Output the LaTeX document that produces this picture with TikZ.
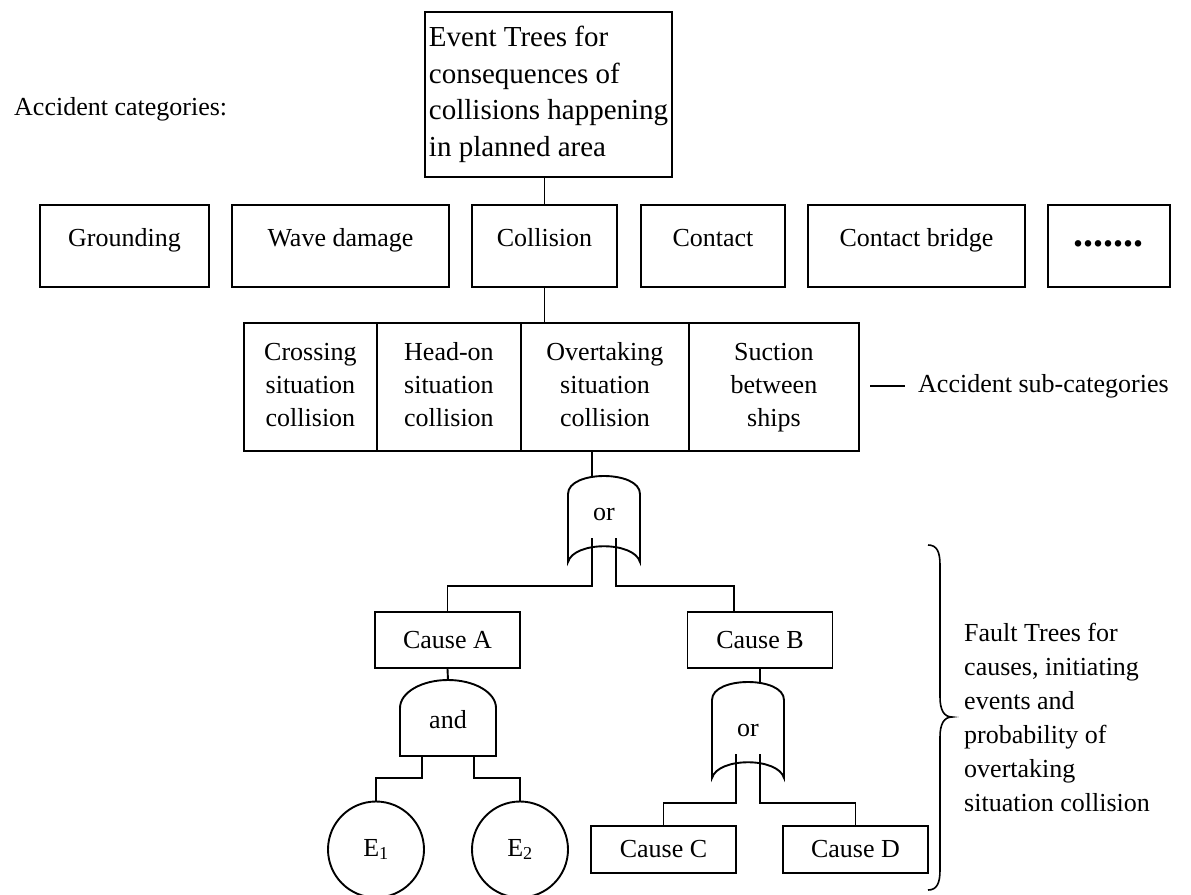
\documentclass[tikz,border=0pt]{standalone}
\usepackage{fontspec}
\setmainfont{Liberation Serif}
\begin{document}
\begin{tikzpicture}[x=1pt,y=-1pt,
  every node/.style={font=\fontsize{26}{34}\selectfont},
  line/.style={line width=1.9pt},
  box/.style={draw, line width=1.9pt, inner sep=0pt},
  catbox/.style={box, anchor=north west, text height=42pt, text depth=40pt},
  subbox/.style={box, anchor=north west, align=center, minimum height=128pt,
                 font=\fontsize{26}{33}\selectfont},
  causebox/.style={box, minimum width=145pt},
  plain/.style={inner sep=0pt},
  pics/orgate/.style={code={
    \draw[line] (-36,#1) -- (-36,18) .. controls (-36,-6) and (36,-6) .. (36,18)
      -- (36,#1) .. controls (30,{#1-21}) and (-30,{#1-21}) .. (-36,#1) -- cycle;
    \coordinate (-tl) at (-12,1);
    \coordinate (-tr) at (12,1);
    \coordinate (-a) at (-12,{#1-24});
    \coordinate (-b) at (12,{#1-24});
  }},
  pics/andgate/.style={code={
    \draw[line] (-48,#1) -- (-48,28) .. controls (-48,12.5) and (-26.5,0) .. (0,0)
      .. controls (26.5,0) and (48,12.5) .. (48,28) -- (48,#1) -- cycle;
    \coordinate (-top) at (0,0);
    \coordinate (-a) at (-26,#1);
    \coordinate (-b) at (26,#1);
  }}
]
\useasboundingbox (0,0) rectangle (1191,894);

% event tree box and heading
\node[box, anchor=north west, align=left, inner xsep=4pt, minimum height=165pt,
      font=\fontsize{29}{36.4}\selectfont]
  (top) at (424,11) {Event Trees for\\consequences of\\collisions happening\\in planned area};
\node[plain, anchor=west] (acclab) at (14,109) {Accident categories:};

% accident categories
\node[catbox, minimum width=169pt] (cat1) at (39,204) {Grounding};
\node[catbox, minimum width=217pt] (cat2) at (231,204) {Wave damage};
\node[catbox, minimum width=145pt] (cat3) at (471,204) {Collision};
\node[catbox, minimum width=144pt] (cat4) at (640,204) {Contact};
\node[catbox, minimum width=217pt] (cat5) at (807,204) {Contact bridge};
\node[catbox, minimum width=122pt, font=\fontsize{40}{40}\selectfont\bfseries]
  (cat6) at (1047,204) {.......};

% accident sub-categories (struts keep the three lines on common baselines)
\node[subbox, minimum width=133pt] (sub1) at (243,322) {\strut Crossing\\situation\\collision\strut};
\node[subbox, minimum width=144pt] (sub2) at (376,322) {\strut Head-on\\situation\\collision\strut};
\node[subbox, minimum width=168pt] (sub3) at (520,322) {\strut Overtaking\\situation\\collision\strut};
\node[subbox, minimum width=170pt] (sub4) at (688,322) {\strut Suction\\between\\ships\strut};
\coordinate (sl) at (870,386);
\node[plain, anchor=west] (sublab) at (918,386) {Accident sub-categories};

\draw[line] (cat3.north) -- (cat3.north |- top.south);
\draw[line] (cat3.south) -- (cat3.south |- sub3.north);
\draw[line] (sl) -- ([xshift=-13pt]sublab.west);

% fault tree
\pic (g1) at (604,476) {orgate=86};
\node (g1t) at (604,514) {or};
\node[causebox, minimum height=56pt] (cA) at (447.5,640) {Cause A};
\node[causebox, minimum height=56pt] (cB) at (760,640) {Cause B};
\draw[line] (g1-tl |- sub3.south) -- (g1-tl);
\draw[line] (g1-a) -- ++(0,48) -| (cA.north);
\draw[line] (g1-b) -- ++(0,48) -| ([xshift=47.5pt]cB.north west);

\pic (ag) at (448,680) {andgate=76};
\node (agt) at (448,720) {and};
\node[draw, line, circle, minimum size=96pt, inner sep=0pt] (e1) at (376,849.5) {E\textsubscript{1}};
\node[draw, line, circle, minimum size=96pt, inner sep=0pt] (e2) at (520,849.5) {E\textsubscript{2}};
\draw[line] (cA.south) -- (ag-top);
\draw[line] (ag-a) -- ++(0,22) -| (e1.north);
\draw[line] (ag-b) -- ++(0,22) -| (e2.north);

\pic (g2) at (748,682) {orgate=96};
\node (g2t) at (748,730) {or};
\node[causebox, minimum height=47pt] (cC) at (663.5,849.5) {Cause C};
\node[causebox, minimum height=47pt] (cD) at (855.5,849.5) {Cause D};
\draw[line] (cB.south) -- (cB.south |- g2-tr);
\draw[line] (g2-a) -- ++(0,49) -| (cC.north);
\draw[line] (g2-b) -- ++(0,49) -| (cD.north);

% brace and fault tree caption
\coordinate (bt) at (928,545);
\coordinate (bb) at (928,890);
\coordinate (tip) at (952,717);
\draw[line width=1.6pt] (bt) .. controls (937,545) and (940,552) .. (940,565) -- (940,697)
  .. controls (940,710) and (944,717) .. (tip) .. controls (944,717) and (940,724) .. (940,737)
  -- (940,870) .. controls (940,883) and (937,890) .. (bb);
\node[plain, anchor=west, align=left] (ftlab) at (964,717)
  {Fault Trees for\\causes, initiating\\events and\\probability of\\overtaking\\situation collision};
\end{tikzpicture}
\end{document}
